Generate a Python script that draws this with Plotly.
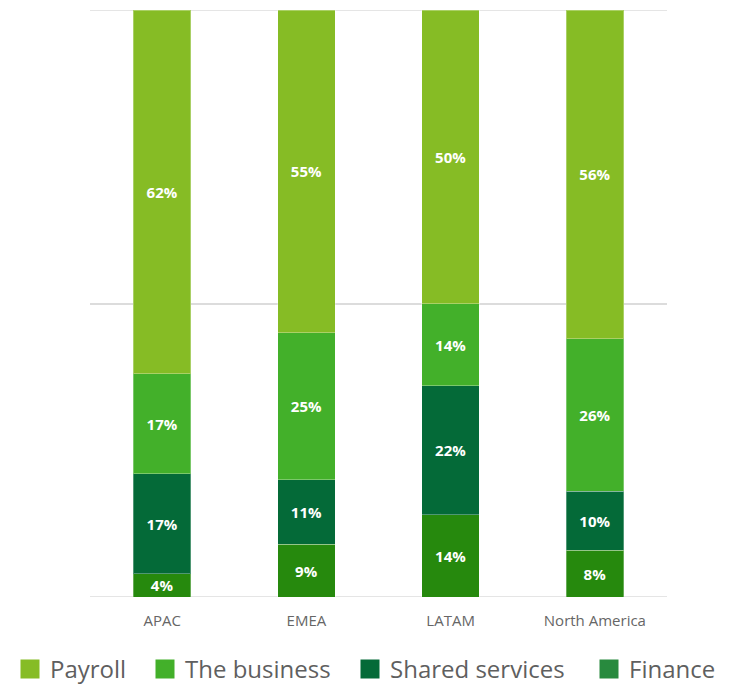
import plotly.graph_objects as go

categories = ["APAC", "EMEA", "LATAM", "North America"]
finance = [4, 9, 14, 8]
shared_services = [17, 11, 22, 10]
the_business = [17, 25, 14, 26]
payroll = [62, 55, 50, 56]

series = [
    ("Finance", finance, "#26890d", "#288a3e"),
    ("Shared services", shared_services, "#046a38", "#046a38"),
    ("The business", the_business, "#43b02a", "#43b02a"),
    ("Payroll", payroll, "#86bc25", "#86bc25"),
]

# horizontal pixel offset of each legend entry (layout, not data)
legend_x_px = {"Payroll": 10, "The business": 145, "Shared services": 350, "Finance": 589}

FONT = "Open Sans"
W, H = 737, 684
fig = go.Figure()
for name, vals, col, _ in series:
    fig.add_trace(go.Bar(
        x=categories, y=vals, name=name, marker_color=col,
        marker_line=dict(width=1, color="rgba(255,255,255,0.3)"),
        texttemplate="%{y}%", textposition="inside", insidetextanchor="middle",
        constraintext="none", cliponaxis=False,
        textangle=0, textfont=dict(family=FONT, size=15, color="white", weight="bold"),
        showlegend=False, hoverinfo="skip",
    ))

legend_layouts = {}
for i, (name, vals, _, lcol) in enumerate(reversed(series)):
    lid = "legend" if i == 0 else f"legend{i + 1}"
    fig.add_trace(go.Scatter(
        x=[None], y=[None], mode="markers", name=name, legend=lid,
        marker=dict(symbol="square", size=16, color=lcol, line=dict(width=3, color=lcol)),
        showlegend=True,
    ))
    legend_layouts[lid] = dict(
        orientation="h", xref="container", yref="container",
        x=legend_x_px[name] / W, xanchor="left", y=14.5 / H, yanchor="middle",
        font=dict(family=FONT, size=24, color="#5f5f5f"), itemsizing="trace",
        bgcolor="rgba(0,0,0,0)",
    )

for yv in (0, 100):
    fig.add_shape(type="line", xref="paper", x0=0, x1=1, yref="y", y0=yv, y1=yv,
                  line=dict(color="#dcdcdc", width=1.5), layer="below")

fig.update_layout(
    barmode="stack", bargap=0.6,
    width=W, height=H,
    margin=dict(l=90, r=70, t=10, b=87),
    plot_bgcolor="white", paper_bgcolor="white",
    font=dict(family=FONT, color="#666666"),
    xaxis=dict(showgrid=False, showline=False, ticks="", tickfont=dict(size=15, color="#666666"),
               ticklabelstandoff=13, automargin=False),
    yaxis=dict(range=[0, 100], tickvals=[0, 50, 100], showgrid=True, gridcolor="#dcdcdc",
               gridwidth=1.5, showticklabels=False, zeroline=False, showline=False,
               automargin=False),
    **legend_layouts,
)

fig.write_html("out.html", config={"displayModeBar": False},
               post_script="document.body.style.margin='0';document.body.style.overflow='hidden';")
